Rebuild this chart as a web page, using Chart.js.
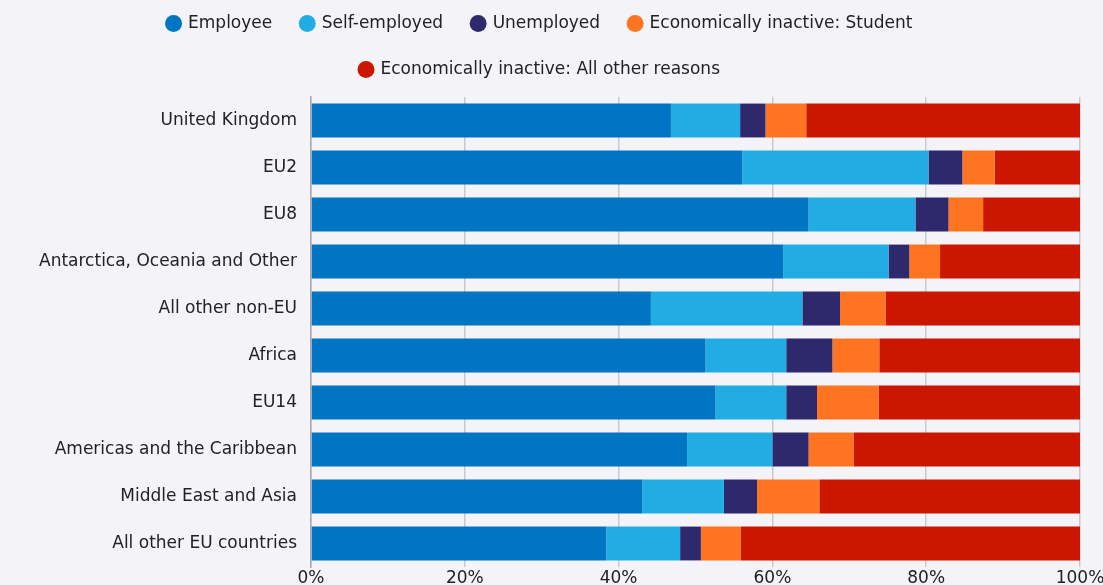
<!DOCTYPE html>
<html>
<head>
<meta charset="utf-8">
<script src="https://cdn.jsdelivr.net/npm/chart.js@4"></script>
<style>
    html, body { margin: 0; padding: 0; background: #f4f4f8; }
    #wrap { width: 1103px; height: 585px; }
</style>
</head>
<body>
<div id="wrap"><canvas id="chart"></canvas></div>
<script>
const regions = ['United Kingdom', 'EU2', 'EU8', 'Antarctica, Oceania and Other', 'All other non-EU',
    'Africa', 'EU14', 'Americas and the Caribbean', 'Middle East and Asia', 'All other EU countries'];

const employee     = [46.8, 56.1, 64.7, 61.4, 44.2, 51.3, 52.6, 48.9, 43.1, 38.4];
const selfEmployed = [9.0, 24.2, 13.9, 13.7, 19.7, 10.5, 9.2, 11.1, 10.6, 9.6];
const unemployed   = [3.3, 4.4, 4.3, 2.7, 4.9, 6.0, 4.0, 4.7, 4.3, 2.7];
const student      = [5.3, 4.2, 4.5, 4.0, 5.9, 6.1, 8.0, 5.9, 8.1, 5.2];
const otherReasons = [35.6, 11.1, 12.6, 18.2, 25.3, 26.1, 26.2, 29.4, 33.9, 44.1];

const xTicks = [0, 20, 40, 60, 80, 100];

const font = 'DejaVu Sans';

const series = [
    { label: 'Employee', data: employee, color: '#0075c4' },
    { label: 'Self-employed', data: selfEmployed, color: '#21ade3' },
    { label: 'Unemployed', data: unemployed, color: '#2e286d' },
    { label: 'Economically inactive: Student', data: student, color: '#ff7420' },
    { label: 'Economically inactive: All other reasons', data: otherReasons, color: '#cb1700' }
];

// push the bars down a bit below the legend
const legendGap = {
    id: 'legendGap',
    beforeLayout(chart) {
        const lg = chart.legend;
        if (lg && !lg._gapPatched) {
            const fit = lg.fit;
            lg.fit = function() { fit.call(this); this.height += 9; };
            lg._gapPatched = true;
        }
    }
};

new Chart(document.getElementById('chart'), {
    type: 'bar',
    data: {
        labels: regions,
        datasets: series.map(s => ({
            label: s.label,
            data: s.data,
            backgroundColor: s.color,
            borderWidth: 0,
            categoryPercentage: 1,
            barPercentage: 0.72
        }))
    },
    options: {
        indexAxis: 'y',
        responsive: true,
        maintainAspectRatio: false,
        animation: false,
        layout: { padding: { top: -14, right: 23, bottom: 0, left: 0 } },
        scales: {
            x: {
                stacked: true,
                min: 0,
                max: 100,
                afterBuildTicks: axis => { axis.ticks = xTicks.map(v => ({ value: v })) },
                afterFit: axis => {
                    axis.height = 18;
                    axis.paddingLeft = 0;
                    axis.paddingRight = 0;
                    axis.paddingTop = 0;
                    axis.paddingBottom = 0;
                },
                ticks: {
                    callback: v => v + '%',
                    color: '#222',
                    padding: 3,
                    font: { family: font, size: 17, lineHeight: 1 }
                },
                grid: { color: '#c9c9cd', lineWidth: 1.5, drawTicks: false },
                border: { display: false }
            },
            y: {
                stacked: true,
                afterFit: axis => {
                    axis.width = 311;
                    axis.paddingTop = 0;
                    axis.paddingBottom = 0;
                },
                ticks: {
                    color: '#222',
                    padding: 14,
                    font: { family: font, size: 17 }
                },
                grid: { display: false, drawTicks: false },
                border: { color: '#a9a9ad', width: 1.5 }
            }
        },
        plugins: {
            legend: {
                position: 'top',
                labels: {
                    usePointStyle: true,
                    pointStyle: 'circle',
                    boxWidth: 12,
                    boxHeight: 12,
                    padding: 29,
                    color: '#222',
                    font: { family: font, size: 17 }
                }
            },
            tooltip: { enabled: false }
        }
    },
    plugins: [legendGap]
});
</script>
</body>
</html>
